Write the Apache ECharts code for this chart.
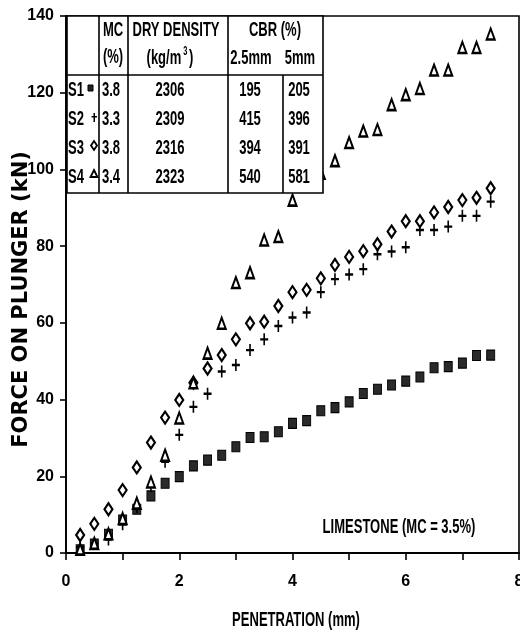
<!DOCTYPE html>
<html>
<head>
<meta charset="utf-8">
<script src="https://cdn.jsdelivr.net/npm/echarts@6/dist/echarts.min.js"></script>
<style>
html,body{margin:0;padding:0;background:#fff;}
#chart{width:520px;height:639px;}
</style>
</head>
<body>
<div id="chart"></div>
<script>
// ---- data ----
var penetration = [0.25,0.5,0.75,1.0,1.25,1.5,1.75,2.0,2.25,2.5,2.75,3.0,3.25,3.5,3.75,4.0,4.25,4.5,4.75,5.0,5.25,5.5,5.75,6.0,6.25,6.5,6.75,7.0,7.25,7.5];
var s1Force = [0.8,2.3,4.9,8.6,11.4,14.9,18.2,19.9,22.7,24.2,25.5,27.7,30.1,30.3,31.6,33.8,34.5,37.1,37.9,39.4,41.6,42.7,43.8,44.8,45.9,48.3,48.6,49.5,51.5,51.6];
var s2Force = [1.5,2.5,3.5,7.5,12.0,17.5,23.8,30.8,38.1,41.5,47.3,49.0,52.9,55.7,59.2,61.4,62.7,68.0,71.4,72.6,74.0,77.9,78.6,79.7,84.2,84.2,85.1,87.9,87.9,91.6];
var s3Force = [4.7,7.6,11.4,16.4,22.3,28.8,35.3,39.9,44.4,48.1,51.6,55.7,59.9,60.3,64.4,68.0,68.6,71.6,75.1,77.2,78.7,80.5,83.8,86.5,86.5,88.8,90.2,92.0,92.6,95.1];
var s4Force = [1.0,2.5,5.0,9.0,13.0,18.5,25.5,35.2,44.4,52.1,59.9,70.5,73.1,81.6,82.5,92.0,96.0,99.0,102.3,107.0,110.0,110.4,116.9,119.5,121.1,125.9,125.9,131.8,131.8,135.3];

var sampleNames = ['S1','S2','S3','S4'];
var mcValues = ['3.8','3.3','3.8','3.4'];
var dryDensity = ['2306','2309','2316','2323'];
var cbr25 = ['195','415','394','540'];
var cbr5 = ['205','396','391','581'];

var xTicks = [0,2,4,6,8];
var yTicks = [0,20,40,60,80,100,120,140];
var xTitle = 'PENETRATION (mm)';
var yTitle = 'FORCE ON PLUNGER (kN)';
var noteText = 'LIMESTONE (MC = 3.5%)';

// ---- styles ----
var SANS = "'Liberation Sans', Arial, sans-serif";
var TFONT = 'bold 21px ' + SANS;
var SQX = 0.62; // horizontal squeeze to mimic condensed type
var plusPath = 'path://M4,0 L6,0 L6,4 L10,4 L10,6 L6,6 L6,10 L4,10 L4,6 L0,6 L0,4 L4,4 Z';

function pairs(ys){ return penetration.map(function(x,i){ return [x, ys[i]]; }); }

var chart = echarts.init(document.getElementById('chart'), null, {renderer:'canvas'});

// table graphic
var tL = 67, tR = 323, tT = 16, tH = 75, tB = 193;
var colX = [99,128,228];
var rowY = [90,119,148,177];
function T(x,y,s,font,k){
  return {type:'text', z:101, x:x, y:y, scaleX:(k||SQX), scaleY:1,
    style:{text:s, x:0, y:0, fill:'#000', font:(font||TFONT), textAlign:'center', textVerticalAlign:'middle'}};
}
function L(x1,y1,x2,y2){ return {type:'line', z:101, shape:{x1:x1,y1:y1,x2:x2,y2:y2}, style:{stroke:'#000', lineWidth:1.6}}; }

var g = [];
g.push({type:'rect', z:100, shape:{x:tL, y:tT, width:tR-tL, height:tB-tT}, style:{fill:'#fff', stroke:'#000', lineWidth:1.6}});
colX.forEach(function(x){ g.push(L(x,tT,x,tB)); });
g.push(L(283,tH,283,tB));
g.push(L(tL,tH,tR,tH));
g.push(T(113,30,'MC'));
g.push(T(113,57,'(%)'));
g.push(T(176,30,'DRY DENSITY'));
g.push({type:'text', z:101, x:170, y:58, scaleX:SQX,
  style:{text:'(kg/m{s|3})', x:0, y:0, fill:'#000', font:TFONT, textAlign:'center', textVerticalAlign:'middle',
    rich:{s:{fontSize:12, fontWeight:'bold', fontFamily:SANS, verticalAlign:'top', padding:[0,3,12,3]}}}});
g.push(T(275,30,'CBR (%)'));
g.push(T(251,58,'2.5mm'));
g.push(T(300,58,'5mm'));
sampleNames.forEach(function(n,i){
  var y = rowY[i];
  g.push(T(76,y,n));
  g.push(T(111,y,mcValues[i]));
  g.push(T(170,y,dryDensity[i]));
  g.push(T(250,y,cbr25[i]));
  g.push(T(299,y,cbr5[i]));
});
// symbols in table
g.push({type:'rect', z:102, shape:{x:88,y:85,width:5,height:6}, style:{fill:'#222', stroke:'#000', lineWidth:1}});
g.push({type:'polygon', z:102, shape:{points:[[93.5,113],[95,113],[95,116],[97,116],[97,117.5],[95,117.5],[95,122],[93.5,122],[93.5,117.5],[91.5,117.5],[91.5,116],[93.5,116]]}, style:{fill:'#000'}});
g.push({type:'polygon', z:102, shape:{points:[[94,141],[97,145.5],[94,150],[91,145.5]]}, style:{fill:'#fff', stroke:'#000', lineWidth:1.8}});
g.push({type:'polygon', z:102, shape:{points:[[94,170],[97.5,177],[90.5,177]]}, style:{fill:'#fff', stroke:'#000', lineWidth:1.8}});
g.push(T(399,527,noteText));
g.push(T(296,620,xTitle));

var option = {
  backgroundColor:'#fff',
  animation:false,
  grid:{left:66, right:1, top:16, bottom:86, containLabel:false, outerBoundsMode:'none',
    show:true, borderColor:'#000', borderWidth:1.6, backgroundColor:'transparent'},
  xAxis:{
    type:'value', min:0, max:8, interval:1,
    axisLine:{show:true, onZero:false, lineStyle:{color:'#000', width:1.8}},
    axisTick:{show:true, inside:false, length:7, lineStyle:{color:'#000', width:1.6}},
    axisLabel:{color:'#000', fontFamily:SANS, fontWeight:'bold', fontSize:16, margin:21,
      formatter:function(v){ return xTicks.indexOf(v) >= 0 ? String(v) : ''; }},
    splitLine:{show:false}
  },
  yAxis:{
    type:'value', min:0, max:140, interval:20,
    name:yTitle, nameLocation:'middle', nameGap:34, nameRotate:90, nameMoveOverlap:false,
    nameTextStyle:{color:'#000', fontFamily:"'DejaVu Sans', sans-serif", fontWeight:'bold', fontSize:21, padding:[0,30,0,0]},
    axisLine:{show:true, onZero:false, lineStyle:{color:'#000', width:1.8}},
    axisTick:{show:true, inside:false, length:6, lineStyle:{color:'#000', width:1.6}},
    axisLabel:{color:'#000', fontFamily:SANS, fontWeight:'bold', fontSize:16, margin:12,
      formatter:function(v){ return yTicks.indexOf(v) >= 0 ? String(v) : ''; }},
    splitLine:{show:false}
  },
  series:[
    {name:'S1', type:'scatter', data:pairs(s1Force), symbol:'rect', symbolSize:[8,10],
      itemStyle:{color:'#2a2a2a', borderColor:'#000', borderWidth:1, opacity:1}},
    {name:'S2', type:'scatter', data:pairs(s2Force), symbol:plusPath, symbolSize:[8,12],
      itemStyle:{color:'#000', opacity:1}},
    {name:'S3', type:'scatter', data:pairs(s3Force), symbol:'diamond', symbolSize:[8,12],
      itemStyle:{color:'#fff', borderColor:'#000', borderWidth:2.2, opacity:1}},
    {name:'S4', type:'scatter', data:pairs(s4Force), symbol:'triangle', symbolSize:[8,11],
      itemStyle:{color:'#fff', borderColor:'#000', borderWidth:2.2, opacity:1}}
  ],
  graphic:{elements:g}
};
chart.setOption(option);
</script>
</body>
</html>
